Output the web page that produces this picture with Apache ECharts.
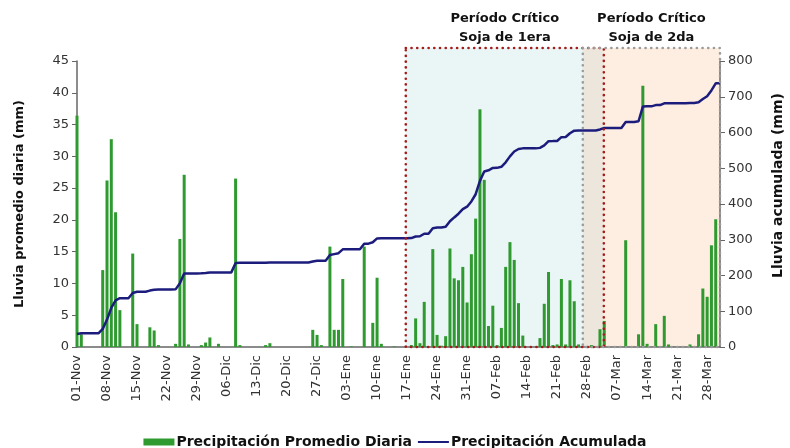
<!DOCTYPE html>
<html>
<head>
<meta charset="utf-8">
<script src="https://cdn.jsdelivr.net/npm/echarts@6/dist/echarts.min.js"></script>
<style>html,body{margin:0;padding:0;background:#fff}#main{width:790px;height:448px}</style>
</head>
<body>
<div id="main"></div>
<script>
// ---- Data ----
const meses = ['Nov', 'Dic', 'Ene', 'Feb', 'Mar'];
const diasPorMes = [30, 31, 31, 28, 31];
const categorias = [];
meses.forEach((m, k) => { for (let d = 1; d <= diasPorMes[k]; d++) categorias.push((d < 10 ? '0' : '') + d + '-' + m); });

// Daily average precipitation (mm), 01-Nov .. 31-Mar
const precipDiaria = [
  36.4, 2.0, 0, 0, 0, 0, 12.1, 26.2, 32.7, 21.2,      // 0-9
  5.8, 0, 0, 14.7, 3.6, 0, 0, 3.1, 2.6, 0.3,          // 10-19
  0, 0, 0, 0.5, 17.0, 27.1, 0.4, 0, 0, 0.3,           // 20-29
  0.7, 1.5, 0, 0.5, 0, 0, 0, 26.5, 0.3, 0,            // 30-39
  0, 0, 0, 0, 0.3, 0.6, 0, 0, 0, 0,                   // 40-49
  0, 0, 0, 0, 0, 2.7, 1.9, 0.3, 0, 15.8,              // 50-59
  2.7, 2.7, 10.7, 0, 0.1, 0, 0, 15.8, 0, 3.8,         // 60-69
  10.9, 0.5, 0, 0, 0.1, 0, 0, 0, 0.3, 4.5,            // 70-79
  0.6, 7.1, 0, 15.4, 1.9, 0.2, 1.7, 15.5, 10.8, 10.5, // 80-89
  12.6, 7.0, 14.6, 20.2, 37.4, 26.3, 3.3, 6.5, 0.3, 3.0, // 90-99
  12.6, 16.5, 13.7, 6.9, 1.8, 0, 0, 0, 1.4, 6.8,      // 100-109
  11.8, 0.3, 0.4, 10.7, 0.4, 10.5, 7.2, 0.4, 0, 0,    // 110-119
  0.3, 0, 2.8, 4.1, 0, 0, 0, 0, 16.8, 0,              // 120-129
  0, 2.0, 41.1, 0.5, 0, 3.6, 0, 4.9, 0.4, 0.1,        // 130-139
  0, 0, 0, 0.4, 0, 2.0, 9.2, 7.9, 16.0, 20.1,         // 140-149
  0                                                   // 150
];
// Accumulated precipitation = running total of the daily series
const precipAcumulada = [];
precipDiaria.reduce((acc, v) => { const s = +(acc + v).toFixed(1); precipAcumulada.push(s); return s; }, 0);

const ticksIzq = [0, 45, 5];     // min, max, interval (mm/day)
const ticksDer = [0, 800, 100];  // min, max, interval (mm)
const nombresSeries = ['Precipitación Promedio Diaria', 'Precipitación Acumulada'];
const tituloEjeDer = 'Lluvia acumulada (mm)';
const periodosTitulos = ['Período Crítico\nSoja de 1era', 'Período Crítico\nSoja de 2da'];
const periodosRango = [[76.7, 122.9], [118.0, 150]]; // day index ranges

// ---- Chart ----
const FONT = 'DejaVu Sans';
const LINE_ICON = 'path://M0,0L0.01,0M0,2.5L31,2.5L31,4.6L0,4.6ZM0,7L0.01,7';
const chart = echarts.init(document.getElementById('main'), null, { renderer: 'canvas' });
chart.setOption({
  animation: false,
  backgroundColor: '#ffffff',
  grid: { left: 77, right: 70, top: 61, bottom: 101, containLabel: false, outerBoundsMode: 'none' },
  legend: {
    data: [{ name: nombresSeries[0], icon: 'rect' }, { name: nombresSeries[1], icon: LINE_ICON }],
    left: 'center',
    top: 435,
    padding: 0,
    itemWidth: 31,
    itemHeight: 7,
    itemGap: 6,
    textStyle: { fontFamily: FONT, fontWeight: 'bold', fontSize: 14, color: '#111', padding: [0, 0, 0, -3] }
  },
  xAxis: {
    type: 'category',
    data: categorias,
    boundaryGap: false,
    axisLine: { lineStyle: { color: '#666', width: 1.5 } },
    axisTick: { show: false },
    axisLabel: { interval: 6, rotate: 90, fontFamily: FONT, fontSize: 13, color: '#333', margin: 8 },
    splitLine: { show: false }
  },
  yAxis: [
    {
      type: 'value', min: ticksIzq[0], max: ticksIzq[1], interval: ticksIzq[2],
      name: 'Lluvia promedio diaria (mm)', nameLocation: 'middle', nameRotate: 90, nameGap: 51,
      nameTextStyle: { fontFamily: FONT, fontWeight: 'bold', fontSize: 13, color: '#111' },
      axisLine: { show: true, lineStyle: { color: '#666', width: 1.5 } },
      axisTick: { show: true, length: 5, lineStyle: { color: '#666' } },
      axisLabel: { fontFamily: FONT, fontSize: 13, color: '#333', margin: 8 },
      splitLine: { show: false }
    },
    {
      type: 'value', min: ticksDer[0], max: ticksDer[1], interval: ticksDer[2], position: 'right',
      axisLine: { show: true, lineStyle: { color: '#666', width: 1.5 } },
      axisTick: { show: true, length: 5, lineStyle: { color: '#666' } },
      axisLabel: { fontFamily: FONT, fontSize: 13, color: '#333', margin: 8 },
      splitLine: { show: false }
    }
  ],
  series: [
    {
      name: nombresSeries[0], type: 'bar', data: precipDiaria, yAxisIndex: 0,
      barWidth: 3, z: 3,
      itemStyle: { color: '#2f9a2f' }
    },
    {
      name: nombresSeries[1], type: 'line', data: precipAcumulada, yAxisIndex: 1,
      symbol: 'none', showSymbol: false, z: 4,
      lineStyle: { color: '#1c1c7c', width: 2.5 },
      itemStyle: { color: '#1c1c7c' }
    }
  ]
});

// ---- Shaded critical periods (positions from the axes) ----
function xPix(i) {
  const a = chart.convertToPixel({ xAxisIndex: 0 }, 0);
  const b = chart.convertToPixel({ xAxisIndex: 0 }, categorias.length - 1);
  return a + (b - a) * i / (categorias.length - 1);
}
const yBot = chart.convertToPixel({ yAxisIndex: 0 }, 0);
const yTop = chart.convertToPixel({ yAxisIndex: 0 }, ticksIzq[1]) - 13;
const r1 = periodosRango[0], r2 = periodosRango[1];
const x1a = xPix(r1[0]), x1b = xPix(r1[1]), x2a = xPix(r2[0]), x2b = xPix(r2[1]);
const xRight = xPix(categorias.length - 1);
const dotted = (color) => ({ fill: 'none', stroke: color, lineWidth: 2.6, lineDash: [0.1, 5.6], lineCap: 'round' });
const graphics = [
  { type: 'rect', z: 0, silent: true, shape: { x: x1a, y: yTop, width: x2a - x1a, height: yBot - yTop }, style: { fill: '#eaf5f6' } },
  { type: 'rect', z: 0, silent: true, shape: { x: x2a, y: yTop, width: x1b - x2a, height: yBot - yTop }, style: { fill: '#ece6dc' } },
  { type: 'rect', z: 0, silent: true, shape: { x: x1b, y: yTop, width: x2b - x1b, height: yBot - yTop }, style: { fill: '#fdeee1' } },
  { type: 'rect', z: 5, silent: true, shape: { x: x1a, y: yTop, width: x1b - x1a, height: yBot - yTop }, style: dotted('#a51c1c') },
  { type: 'rect', z: 6, silent: true, shape: { x: x2a, y: yTop, width: x2b - x2a, height: yBot - yTop }, style: dotted('#9c9c9c') },
  { type: 'text', z: 6, silent: true, x: (x1a + x1b) / 2, y: 28, style: { text: periodosTitulos[0], fontFamily: FONT, fontWeight: 'bold', fontSize: 13, lineHeight: 19, fill: '#111', align: 'center', verticalAlign: 'middle' } },
  { type: 'text', z: 6, silent: true, x: (x2a + x2b) / 2, y: 28, style: { text: periodosTitulos[1], fontFamily: FONT, fontWeight: 'bold', fontSize: 13, lineHeight: 19, fill: '#111', align: 'center', verticalAlign: 'middle' } },
  { type: 'text', z: 6, silent: true, x: xRight + 58, y: (yTop + yBot) / 2 - 12, rotation: Math.PI / 2, style: { text: tituloEjeDer, fontFamily: FONT, fontWeight: 'bold', fontSize: 14, fill: '#111', align: 'center', verticalAlign: 'middle' } }
];
chart.setOption({ graphic: graphics });
</script>
</body>
</html>
